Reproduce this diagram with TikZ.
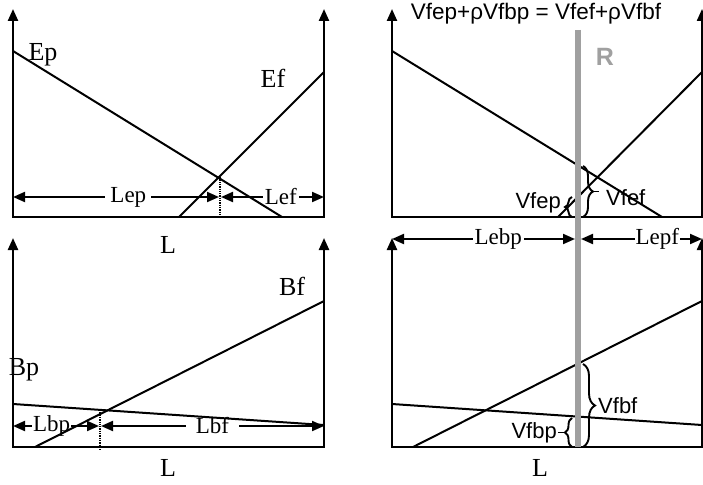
\documentclass[tikz,border=0pt]{standalone}
\usepackage{fontspec}
\setmainfont{Liberation Serif}
\setsansfont{Liberation Sans}
\usetikzlibrary{arrows.meta,positioning,calc,decorations.pathreplacing}
\definecolor{rbar}{HTML}{A0A0A0}

\begin{document}
\begin{tikzpicture}[x=1pt,y=-1pt,
    frame/.style={line width=2.3pt, {Triangle[length=12pt,width=10pt]}-{Triangle[length=12pt,width=10pt]}},
    curve/.style={line width=2pt},
    dim/.style={line width=2pt, {Triangle[length=12pt,width=10pt]}-{Triangle[length=12pt,width=10pt]}},
    dimlabel/.style={fill=white, inner xsep=5pt, inner ysep=1pt, font=\fontsize{23}{25}\selectfont},
    curvename/.style={inner sep=0pt, font=\fontsize{26}{28}\selectfont},
    vlabel/.style={inner sep=1pt, font=\sffamily\fontsize{22}{24}\selectfont},
    vbrace/.style={decorate, line width=1.9pt, decoration={brace, amplitude=#1}},
]
\fill[white] (0,0) rectangle (703,484);
\useasboundingbox (0,0) rectangle (703,484);

% panel corners
\coordinate (a1) at (13,217);  \coordinate (a2) at (324,217);
\coordinate (b1) at (392,217); \coordinate (b2) at (702,217);
\coordinate (c1) at (13,447);  \coordinate (c2) at (324,447);
\coordinate (d1) at (392,447); \coordinate (d2) at (702,447);

\draw[frame] (a1 |- 0,9) -- (a1) -- (a2) -- (a2 |- 0,9);
\draw[frame] (b1 |- 0,9) -- (b1) -- (b2) -- (b2 |- 0,9);
\draw[frame] (c1 |- 0,238) -- (c1) -- (c2) -- (c2 |- 0,238);
\draw[frame] (d1 |- 0,238) -- (d1) -- (d2) -- (d2 |- 0,238);

% dimensions
\coordinate (xe) at (220,197);
\coordinate (xb) at (100,426);
\draw[dim] (a1 |- xe) -- node[dimlabel, pos=.56] {Lep} ([xshift=-1pt]xe);
\draw[dim] ([xshift=1pt]xe) -- node[dimlabel, pos=.58, inner xsep=2pt] {Lef} (a2 |- xe);
\draw[dim] (c1 |- xb) -- node[dimlabel, pos=.45, inner xsep=1pt] {Lbp} ([xshift=-1pt]xb);
\draw[dim] ([xshift=1pt]xb) -- node[dimlabel, pos=.5, inner xsep=10pt] {Lbf} (c2 |- xb);
\draw[densely dotted, line width=1.3pt] (220,177) -- (220,216);
\draw[densely dotted, line width=1.3pt] (100,410) -- (100,450);

% curves
\draw[curve] (13,51) -- (282,217);
\draw[curve] (179,217) -- (324,72);
\draw[curve] (35,447) -- (324,301);
\draw[curve] (13,404) -- (324,425);
\draw[curve] (392,51) -- (662,217);
\draw[curve] (558,217) -- (702,72);
\draw[curve] (413,447) -- (702,301);
\draw[curve] (392,404) -- (702,425);

% R line
\coordinate (rtop) at (578,30);
\coordinate (rbot) at (578,447);
\draw[rbar, line width=6.5pt] (rtop) -- (rbot);
\node[font=\sffamily\bfseries\fontsize{25}{27}\selectfont, text=rbar] (rname) at (605,57) {R};

\coordinate (yl) at (0,239);
\draw[dim] (d1 |- yl) -- node[dimlabel, pos=.58, inner xsep=2pt] {Lebp} ([xshift=-3pt]rtop |- yl);
\draw[dim] ([xshift=3pt]rtop |- yl) -- node[dimlabel, pos=.63, inner xsep=1pt] {Lepf} (d2 |- yl);

% braces
\draw[vbrace=7pt] (572,217) -- (572,197) coordinate[midway, xshift=-10pt] (vfeptip);
\node[vlabel, anchor=east] (vfep) at ([yshift=4pt]vfeptip) {Vfep};
\draw[vbrace=10pt] (583,166) -- (583,217) coordinate[midway, xshift=22pt] (vfeftip);
\draw[line width=1.9pt] ([xshift=-12pt]vfeftip) -- ([xshift=-6pt]vfeftip);
\node[vlabel, anchor=west] (vfef) at ([yshift=-6pt]vfeftip) {Vfef};
\draw[vbrace=12pt] (583,364) -- (583,447) coordinate[midway, xshift=14pt] (vfbftip);
\node[vlabel, anchor=west] (vfbf) at (vfbftip) {Vfbf};
\draw[vbrace=7pt] (572,447) -- (572,418) coordinate[midway, xshift=-7pt] (vfbptip);
\draw[line width=1.9pt] (vfbptip) -- ([xshift=-7pt]vfbptip) coordinate (vfbpend);
\node[vlabel, anchor=east] (vfbp) at (vfbpend) {Vfbp};

% names
\node[curvename] (ep) at (43,55) {Ep};
\node[curvename] (ef) at (273,78) {Ef};
\node[curvename] (bp) at (24,370) {Bp};
\node[curvename] (bf) at (292,286) {Bf};
\node[curvename] (l1) at (168,245) {L};
\node[curvename] (l2) at (168,468) {L};
\node[curvename] (l3) at (540,468) {L};
\node[vlabel, font=\sffamily\fontsize{22.5}{24}\selectfont] (eq) at (536,14) {Vfep+ρVfbp = Vfef+ρVfbf};
\end{tikzpicture}
\end{document}
